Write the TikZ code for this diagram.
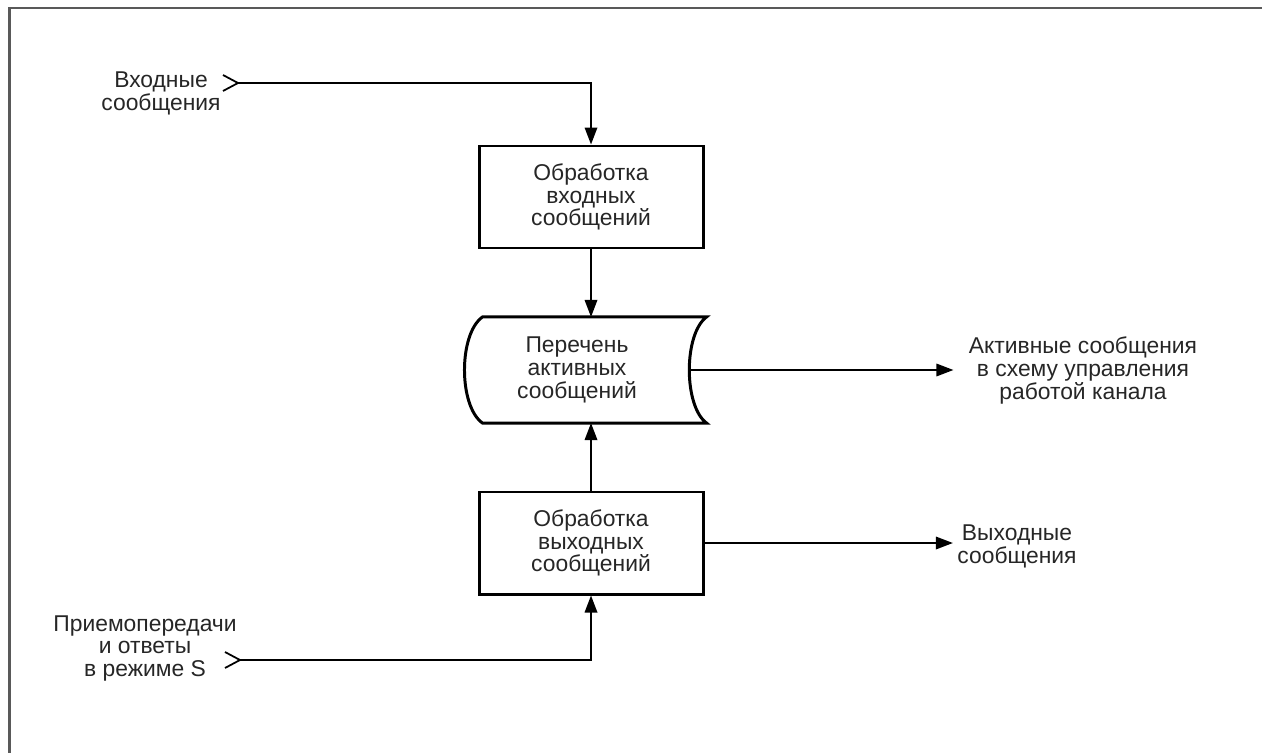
\documentclass[tikz,border=0pt]{standalone}
\usepackage{fontspec}
\setmainfont{Liberation Sans}
\usetikzlibrary{arrows.meta, positioning}

\begin{document}
\begin{tikzpicture} [auto, node distance =3.46cm and 2cm ,on grid, semithick, font=\fontsize{13}{13}\selectfont,
	block/.style ={rectangle, draw, line width=1.7pt, minimum width=4.48cm, minimum height=2.04cm, align=center, inner sep=0pt, text=black!85},
	store/.style ={minimum width=4.48cm, minimum height=2.1cm, align=center, inner sep=0pt, text=black!85},
	tag/.style ={align=center, inner sep=0pt, text=black!85},
	flow/.style ={-{Triangle[length=3.4mm,width=2.5mm]}, line width=1pt},
	feed/.style ={line width=1pt}]
	\useasboundingbox (0,0) rectangle (25.24,15.06);
	\draw[black!65, line width=1.2pt] (25.24,14.9) -- (0.19,14.9) -- (0.19,0);

	\node[block] (B1) at (11.82,11.12) {Обработка\\входных\\сообщений};
	\node[store] (S1) [below=of B1, xshift=-0.28cm] {Перечень\\активных\\сообщений};
	\node[block] (B2) [below=of S1, xshift=0.28cm] {Обработка\\выходных\\сообщений};
	\draw[line width=1.7pt] ([xshift=0.36cm]S1.north west)
		.. controls ([xshift=-0.12cm, yshift=-0.34cm]S1.north west) and ([xshift=-0.12cm, yshift=0.34cm]S1.south west) .. ([xshift=0.36cm]S1.south west)
		-- ([xshift=0.34cm]S1.south east)
		.. controls ([xshift=-0.12cm, yshift=0.34cm]S1.south east) and ([xshift=-0.12cm, yshift=-0.34cm]S1.north east) .. ([xshift=0.34cm]S1.north east)
		-- cycle;

	\node[tag] (T1) at (3.22,13.19) {Входные\\сообщения};
	\coordinate (C1) at (4.76,13.4);
	\node[tag] (T2) at (2.9,2.09) {Приемопередачи\\и ответы\\в режиме S};
	\coordinate (C2) at (4.8,1.86);
	\node[tag, inner xsep=0.3cm] (Out1) at (21.66,7.65) {Активные сообщения\\в схему управления\\работой канала};
	\node[tag, inner xsep=0.08cm] (Out2) at (20.34,4.14) {Выходные\\сообщения};

	\draw[feed] ([xshift=-0.3cm, yshift=0.16cm]C1) -- (C1) -- ([xshift=-0.3cm, yshift=-0.16cm]C1);
	\draw[feed] ([xshift=-0.3cm, yshift=0.16cm]C2) -- (C2) -- ([xshift=-0.3cm, yshift=-0.16cm]C2);
	\draw[flow] (C1) -| (B1.north);
	\draw[flow] (B1.south) -- (B1.south |- S1.north);
	\draw[flow] (B2.north) -- (B2.north |- S1.south);
	\draw[flow] (C2) -| (B2.south);
	\draw[flow] (S1.east) -- (S1.east -| Out1.west);
	\draw[flow] (B2.east) -- (B2.east -| Out2.west);
\end{tikzpicture}
\end{document}
